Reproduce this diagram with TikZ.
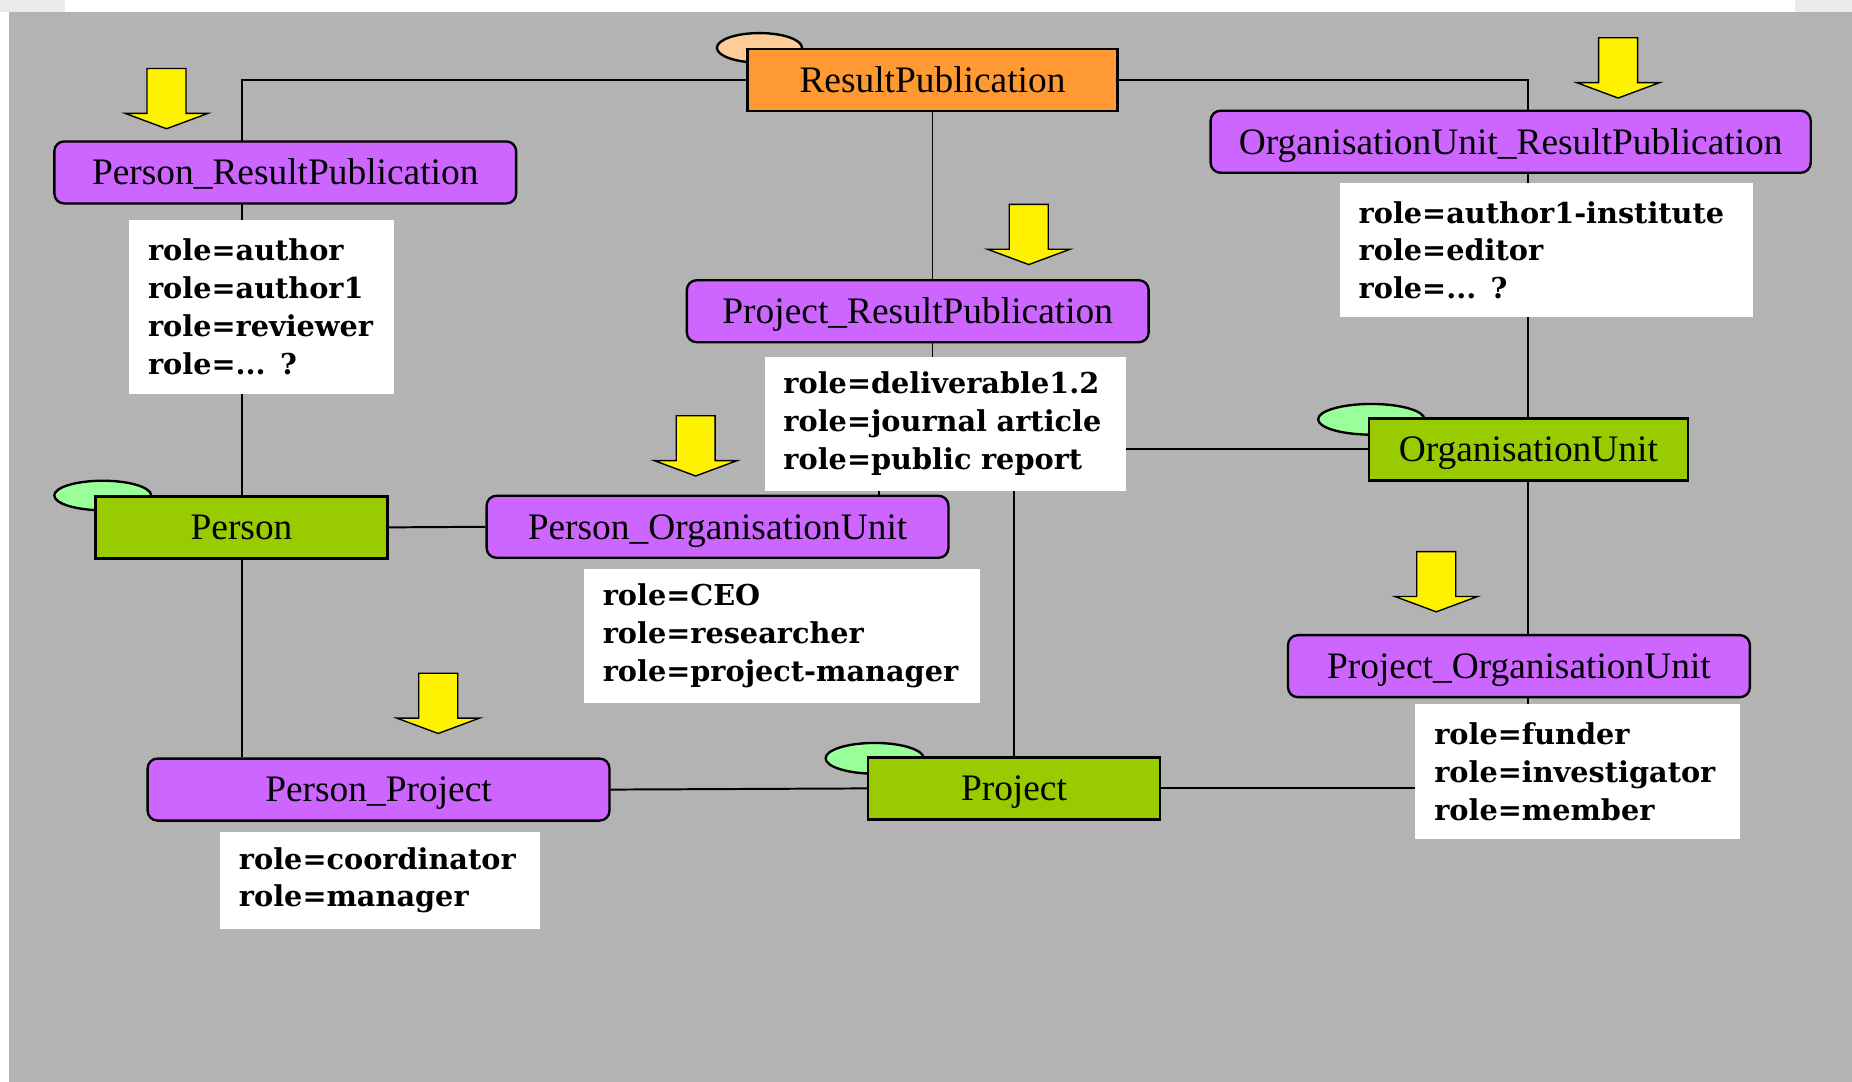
\documentclass[tikz,border=0pt]{standalone}
\usepackage{fontspec}
\setmainfont{Liberation Serif}
\newfontfamily\rolefont{DejaVu Serif}
\usetikzlibrary{backgrounds}

\definecolor{bggray}{HTML}{B3B3B3}
\definecolor{linkpurple}{HTML}{CC66FF}
\definecolor{entorange}{HTML}{FF9933}
\definecolor{entgreen}{HTML}{99CC00}
\definecolor{capgreen}{HTML}{99FF99}
\definecolor{cappeach}{HTML}{FFCC99}

\tikzset{
  entity/.style={draw, line width=1.2pt, minimum height=31.5pt, inner sep=0pt,
    text height=12.5pt, text depth=0pt, font=\fontsize{19}{19}\selectfont},
  linkbox/.style={entity, fill=linkpurple, rounded corners=5pt, minimum width=234.6pt},
  roles/.style={fill=white, anchor=north west, align=left, inner xsep=9.6pt, inner ysep=0pt,
    font=\rolefont\bfseries\fontsize{14.6}{19.2}\selectfont},
  conn/.style={line width=1pt},
}

\begin{document}
\begin{tikzpicture}[x=0.6pt, y=-0.6pt]
                    \useasboundingbox (0,0) rectangle (1568,916);

                    % entities
                    \node[entity, fill=entorange, minimum width=187.8pt] (rp) at (789.5,68) {ResultPublication};
                    \node[entity, fill=entgreen, minimum width=148.2pt] (person) at (204.5,446.5) {Person};
                    \node[entity, fill=entgreen, minimum width=162pt] (ou) at (1294,380.5) {OrganisationUnit};
                    \node[entity, fill=entgreen, minimum width=148.2pt] (project) at (858.5,667.5) {Project};

                    % link entities
                    \node[linkbox] (prp) at (241.5,146) {Person\_ResultPublication};
                    \node[linkbox, minimum width=304.8pt] (ourp) at (1279,120) {OrganisationUnit\_ResultPublication};
                    \node[linkbox] (pjrp) at (777,263.5) {Project\_ResultPublication};
                    \node[linkbox] (pou) at (607.5,446) {Person\_OrganisationUnit};
                    \node[linkbox] (pjou) at (1286,564) {Project\_OrganisationUnit};
                    \node[linkbox] (pp) at (320.5,668.5) {Person\_Project};

                    % role values
                    \node[roles, text width=115.2pt, minimum height=88.2pt] (prproles) at (109,186)
                        {role=author\\role=author1\\role=reviewer\\role=... ?};
                    \node[roles, text width=190.8pt, minimum height=67.8pt] (ourproles) at (1134,155)
                        {role=author1-institute\\role=editor\\role=... ?};
                    \node[roles, text width=164.4pt, minimum height=67.8pt] (pjrproles) at (647,302)
                        {role=deliverable1.2\\role=journal article\\role=public report};
                    \node[roles, text width=181.8pt, minimum height=68.4pt] (pouroles) at (494,481)
                        {role=CEO\\role=researcher\\role=project-manager};
                    \node[roles, text width=145.8pt, minimum height=68.4pt] (pjouroles) at (1198,596)
                        {role=funder\\role=investigator\\role=member};
                    \node[roles, text width=143.4pt, minimum height=49.2pt] (pproles) at (186,704)
                        {role=coordinator\\role=manager};

                    % yellow arrows
                    \foreach \ax/\ay in {141/58, 871/173, 1370/32, 589/352, 1216/467, 371/570}
                        \draw[fill=yellow, line width=0.7pt] (\ax-16.5,\ay) -- (\ax+16.5,\ay) -- (\ax+16.5,\ay+38)
                            -- (\ax+35,\ay+38) -- (\ax,\ay+51) -- (\ax-35,\ay+38) -- (\ax-16.5,\ay+38) -- cycle;

                    \begin{pgfonlayer}{background}
                        \fill[white] (0,0) rectangle (1568,916);
                        \fill[black!8] (0,0) rectangle (55,10);
                        \fill[black!8] (1520,0) rectangle (1568,10);
                        \fill[bggray] (8,10) rectangle (1568,916);

                        % connectors
                        \draw[conn] (person.north) |- (rp.west);
                        \draw[conn] (rp.east) -| (ou.north);
                        \draw[conn] (rp.south) -- (rp.south |- pjrp.north);
                        \draw[conn] (rp.south |- pjrp.south) -- ++(0,110) -| (project.north);
                        \draw[conn] (person.south) -- (person.south |- pp.north);
                        \draw[conn] (person.east) -- (pou.west);
                        \draw[conn] (pp.east) -- (project.west);
                        \draw[conn] (project.east) -| (ou.south |- pjou.south);
                        \draw[conn] (ou.south) -- (ou.south |- pjou.north);
                        \draw[conn] (ou.west) -| ([xshift=-36pt]pou.north east);

                        % caps
                        \draw[fill=cappeach, line width=1.2pt] (643,40.5) ellipse (21.6pt and 7.5pt);
                        \draw[fill=capgreen, line width=1.2pt] (87,419.5) ellipse (24.6pt and 7.5pt);
                        \draw[fill=capgreen, line width=1.2pt] (1161,355) ellipse (27pt and 7.8pt);
                        \draw[fill=capgreen, line width=1.2pt] (740.5,642) ellipse (24.9pt and 7.8pt);
                    \end{pgfonlayer}
                \end{tikzpicture}
\end{document}
